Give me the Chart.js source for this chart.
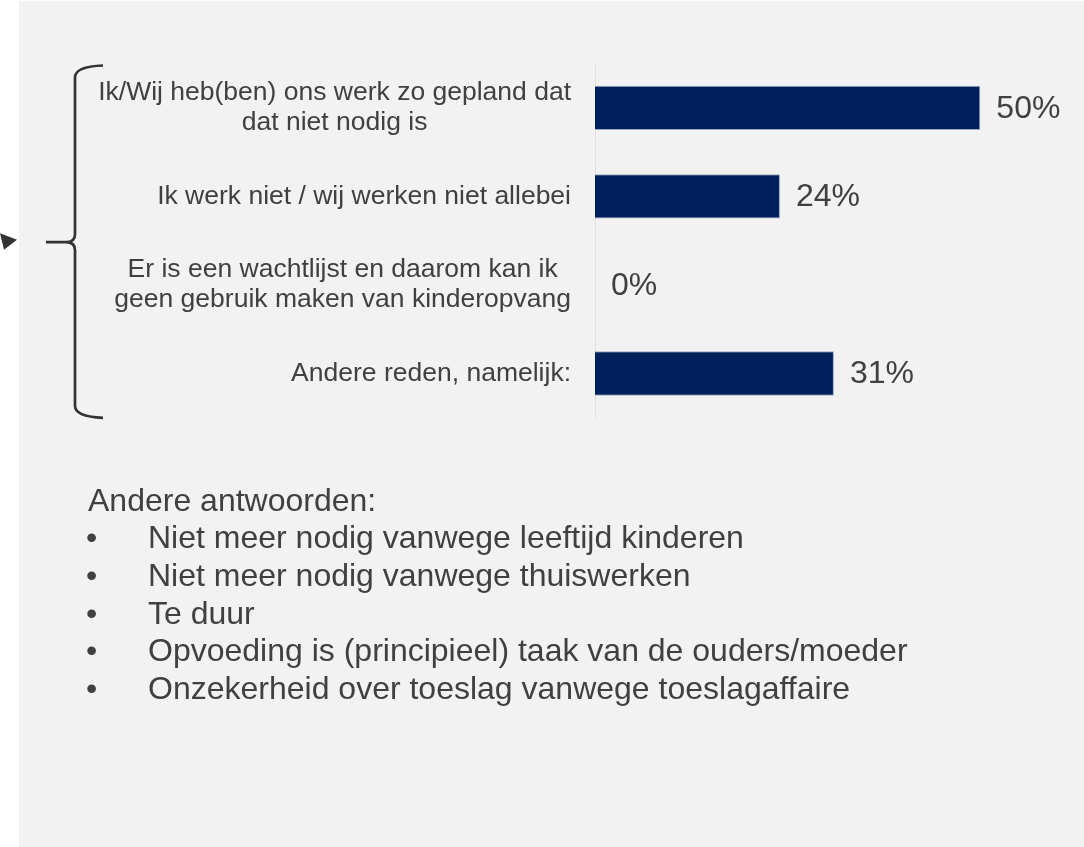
<!DOCTYPE html>
<html>
<head>
<meta charset="utf-8">
<script src="https://cdn.jsdelivr.net/npm/chart.js@4.4.1/dist/chart.umd.min.js"></script>
<style>
  html, body { margin: 0; padding: 0; background: #fff; }
  body { width: 1084px; height: 847px; position: relative; overflow: hidden; font-family: "Liberation Sans", Arial, sans-serif; }
  #panel { position: absolute; left: 19px; top: 1px; width: 1065px; height: 846px; background: #f2f2f2; }
  #chart { position: absolute; left: 0; top: 0; }
  #notes { position: absolute; left: 88px; top: 481.5px; font-size: 32px; line-height: 37.7px; color: #404040; }
  #notes .item { position: relative; padding-left: 60px; }
  #notes .item::before { content: "\2022"; position: absolute; left: -2px; }
</style>
</head>
<body>
<div id="panel"></div>
<canvas id="chart" width="1084" height="847"></canvas>
<div id="notes"></div>
<script>
const categories = [
  ["Ik/Wij heb(ben) ons werk zo gepland dat", "dat niet nodig is"],
  ["Ik werk niet / wij werken niet allebei"],
  ["Er is een wachtlijst en daarom kan ik", "geen gebruik maken van kinderopvang"],
  ["Andere reden, namelijk:"]
];
const percentages = [50, 24, 0, 31];

const notesTitle = "Andere antwoorden:";
const otherAnswers = [
  "Niet meer nodig vanwege leeftijd kinderen",
  "Niet meer nodig vanwege thuiswerken",
  "Te duur",
  "Opvoeding is (principieel) taak van de ouders/moeder",
  "Onzekerheid over toeslag vanwege toeslagaffaire"
];

// list of other answers below the chart
const notes = document.getElementById('notes');
notes.innerHTML = `<div>${notesTitle}</div>` +
  otherAnswers.map(a => `<div class="item">${a}</div>`).join('');

const FONT = '"Liberation Sans", Arial, sans-serif';
const TEXT = '#404040';

// category labels, lines centered within their block, block right-aligned to the axis
const labelPlugin = {
  id: 'labels',
  afterDraw(chart) {
    const ctx = chart.ctx;
    const y = chart.scales.y;
    const right = chart.chartArea.left - 24;
    ctx.save();
    ctx.font = `26.5px ${FONT}`;
    ctx.fillStyle = TEXT;
    ctx.textAlign = 'center';
    ctx.textBaseline = 'middle';
    categories.forEach((lines, i) => {
      const yc = y.getPixelForTick(i);
      const w = Math.max(...lines.map(l => ctx.measureText(l).width));
      const cx = right - w / 2;
      lines.forEach((l, j) => {
        ctx.fillText(l, cx, yc + (j - (lines.length - 1) / 2) * 30);
      });
    });
    ctx.restore();
  }
};

// percentage labels after each bar
const valuePlugin = {
  id: 'values',
  afterDatasetsDraw(chart) {
    const ctx = chart.ctx;
    const meta = chart.getDatasetMeta(0);
    ctx.save();
    ctx.font = `32px ${FONT}`;
    ctx.fillStyle = TEXT;
    ctx.textAlign = 'left';
    ctx.textBaseline = 'middle';
    meta.data.forEach((bar, i) => {
      ctx.fillText(percentages[i] + '%', bar.x + 16, bar.y + 1);
    });
    ctx.restore();
  }
};

// curly brace + arrow on the left
const bracePlugin = {
  id: 'brace',
  afterDraw(chart) {
    const ctx = chart.ctx;
    const a = chart.chartArea;
    const top = a.top + 2, bot = a.bottom, mid = (top + bot) / 2 + 0.5;
    ctx.save();
    ctx.strokeStyle = '#333';
    ctx.lineWidth = 2.7;
    ctx.beginPath();
    ctx.moveTo(103, top);
    ctx.quadraticCurveTo(75, top + 1, 75, top + 12);
    ctx.lineTo(75, mid - 8);
    ctx.quadraticCurveTo(75, mid, 66, mid);
    ctx.lineTo(46, mid);
    ctx.moveTo(66, mid);
    ctx.quadraticCurveTo(75, mid, 75, mid + 8);
    ctx.lineTo(75, bot - 12);
    ctx.quadraticCurveTo(75, bot - 1, 103, bot);
    ctx.stroke();

    ctx.fillStyle = '#333';
    ctx.beginPath();
    ctx.moveTo(0, mid - 9);
    ctx.lineTo(17, mid - 2.5);
    ctx.lineTo(4, mid + 7.5);
    ctx.closePath();
    ctx.fill();
    ctx.restore();
  }
};

new Chart(document.getElementById('chart'), {
  type: 'bar',
  data: {
    labels: categories,
    datasets: [{
      data: percentages,
      backgroundColor: '#001f5b',
      borderColor: '#9aa8c4',
      borderWidth: 1,
      categoryPercentage: 1,
      barPercentage: 0.5
    }]
  },
  options: {
    indexAxis: 'y',
    responsive: false,
    animation: false,
    devicePixelRatio: 1,
    layout: { padding: { left: 595, right: 26.6, top: 63.5, bottom: 429.2 } },
    plugins: { legend: { display: false }, tooltip: { enabled: false } },
    scales: {
      x: { min: 0, max: 60, display: false },
      y: {
        ticks: { display: false },
        grid: { display: false, drawTicks: false },
        border: { display: true, color: '#e2e2e2', width: 1 },
        afterFit: s => { s.width = 0; }
      }
    }
  },
  plugins: [labelPlugin, valuePlugin, bracePlugin]
});
</script>
</body>
</html>
